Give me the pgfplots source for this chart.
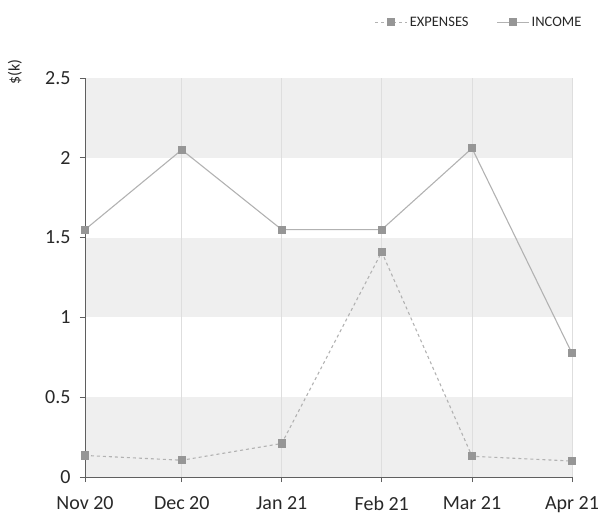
\documentclass[border=0pt]{standalone}
\usepackage{fontspec}
\setmainfont{Carlito}
\usepackage{pgfplots}
\pgfplotsset{compat=1.18}
\definecolor{band}{RGB}{239,239,239}
\definecolor{linegray}{RGB}{178,178,178}
\definecolor{markgray}{RGB}{150,150,150}
\definecolor{axisgray}{RGB}{95,95,95}
\definecolor{textgray}{RGB}{40,40,40}
\definecolor{gridgray}{RGB}{222,222,222}
\begin{document}
\begin{tikzpicture}
\begin{axis}[
  name=ax,
  at={(0,0)}, anchor=south west,
  scale only axis, width=487pt, height=399pt,
  xmin=0, xmax=151, ymin=0, ymax=2.5,
  axis on top,
  axis x line*=bottom, axis y line*=left,
  axis line style={axisgray, line width=0.9pt, -},
  xtick={0,30,61,92,120,151},
  xticklabels={Nov 20,Dec 20,Jan 21,Feb 21,Mar 21,Apr 21},
  ytick={0,0.5,1,1.5,2,2.5},
  yticklabels={0,0.5,1,1.5,2,2.5},
  tick align=outside, major tick length=5pt,
  tick style={axisgray, line width=0.8pt},
  ticklabel style={font=\fontsize{20}{23}\selectfont, text=textgray},
  xticklabel style={yshift=-11pt},
  yticklabel style={xshift=-6pt},
  /pgf/number format/assume math mode=true,
  xmajorgrids, grid style={gridgray, line width=0.6pt},
  ylabel={\$(k)},
  ylabel style={at={(axis description cs:-0.144,1.015)}, anchor=center, font=\fontsize{16}{18}\selectfont, text=textgray},
  legend columns=2,
  legend style={at={(axis description cs:1.03,1.14)}, anchor=east, draw=none, fill=none,
    font=\fontsize{14.5}{17}\selectfont, text=textgray,
    /tikz/every even column/.append style={column sep=26pt}},
  legend image code/.code={\draw[mark repeat=2,mark phase=2,#1] plot coordinates {(0pt,0pt) (16pt,0pt) (32pt,0pt)};},
  legend cell align=left,
  clip=false,
]
\fill[band] (axis cs:0,0) rectangle (axis cs:151,0.5);
\fill[band] (axis cs:0,1) rectangle (axis cs:151,1.5);
\fill[band] (axis cs:0,2) rectangle (axis cs:151,2.5);
\addplot[linegray, line width=1.1pt, dashed, mark=square*, mark size=3.5pt,
  mark options={solid, fill=markgray, draw=markgray}]
  coordinates {(0,0.135) (30,0.105) (61,0.21) (92,1.41) (120,0.13) (151,0.10)};
\addlegendentry{EXPENSES}
\addplot[linegray, line width=1.1pt, mark=square*, mark size=3.5pt,
  mark options={solid, fill=markgray, draw=markgray}]
  coordinates {(0,1.55) (30,2.05) (61,1.55) (92,1.55) (120,2.06) (151,0.775)};
\addlegendentry{INCOME}
\end{axis}
\pgfresetboundingbox
\path (-85pt,-40pt) rectangle (517pt,477pt);
\end{tikzpicture}
\end{document}
